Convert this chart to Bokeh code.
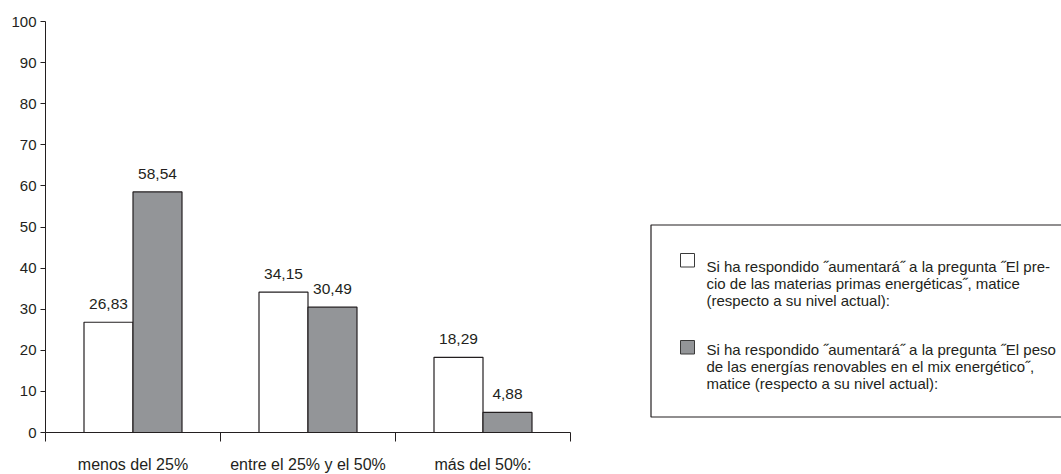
from bokeh.plotting import figure
from bokeh.layouts import row
from bokeh.models import Range1d, FixedTicker, ColumnDataSource
from bokeh.core.properties import value
from bokeh.embed import file_html
from bokeh.resources import INLINE

# ---- data ----
categories = ["menos del 25%", "entre el 25% y el 50%", "más del 50%:"]
precio = [26.83, 34.15, 18.29]        # white bars
renovables = [58.54, 30.49, 4.88]     # gray bars
y_ticks = [0, 10, 20, 30, 40, 50, 60, 70, 80, 90, 100]
legend_precio = ["Si ha respondido \u02ddaumentará\u02dd a la pregunta \u02ddEl pre-",
                 "cio de las materias primas energéticas\u02dd, matice",
                 "(respecto a su nivel actual):"]
legend_renov = ["Si ha respondido \u02ddaumentará\u02dd a la pregunta \u02ddEl peso",
                "de las energías renovables en el mix energético\u02dd,",
                "matice (respecto a su nivel actual):"]

# ---- style ----
FONT = value("Liberation Sans")
INK = "#231f20"
GRAY = "#939598"
BAR_W = 0.28
TOP, FRAME_H, BOTTOM = 21, 411, 42

def fmt(v):
    return f"{v:.2f}".replace(".", ",")

n = len(categories)
centers = [i + 0.5 for i in range(n)]
bounds = [i for i in range(n + 1)]

p = figure(frame_width=525, frame_height=FRAME_H,
           min_border_left=45, min_border_right=30,
           min_border_top=TOP, min_border_bottom=BOTTOM,
           x_range=Range1d(0, n), y_range=Range1d(0, 100),
           output_backend="svg", toolbar_location=None, tools="")
p.xgrid.visible = False
p.ygrid.visible = False
p.outline_line_color = None
p.background_fill_color = "white"
p.border_fill_color = "white"

ya = p.yaxis[0]
ya.ticker = FixedTicker(ticks=y_ticks)
ya.major_tick_out = 5
ya.major_tick_in = 0
ya.minor_tick_out = 0
ya.minor_tick_in = 0
ya.axis_line_color = INK
ya.major_tick_line_color = INK
ya.major_label_standoff = 4
ya.major_label_text_font = "Liberation Sans"
ya.major_label_text_font_size = "15px"
ya.major_label_text_color = INK

xa = p.xaxis[0]
xa.ticker = FixedTicker(ticks=centers, minor_ticks=bounds)
xa.major_label_overrides = {c: cat for c, cat in zip(centers, categories)}
xa.major_tick_out = 0
xa.major_tick_in = 0
xa.minor_tick_out = 9
xa.minor_tick_in = 0
xa.minor_tick_line_color = INK
xa.axis_line_color = INK
xa.major_label_standoff = 14
xa.major_label_text_font = "Liberation Sans"
xa.major_label_text_font_size = "16px"
xa.major_label_text_color = INK

src = ColumnDataSource(dict(
    xw=[i + 0.5 - BAR_W / 2 for i in range(n)],
    xg=[i + 0.5 + BAR_W / 2 for i in range(n)],
    precio=precio, renovables=renovables,
    lp=[fmt(v) for v in precio], lr=[fmt(v) for v in renovables],
))

p.vbar(x="xw", top="precio", bottom=0, width=BAR_W, source=src,
       fill_color="white", line_color=INK, line_width=1.2)
p.vbar(x="xg", top="renovables", bottom=0, width=BAR_W, source=src,
       fill_color=GRAY, line_color=INK, line_width=1.2)

for xcol, ycol, tcol in (("xw", "precio", "lp"), ("xg", "renovables", "lr")):
    p.text(x=xcol, y=ycol, text=tcol, source=src, y_offset=-18,
           text_align="center", text_baseline="alphabetic",
           text_font=FONT, text_font_size="15.5px", text_color=INK)

# ---- legend panel (page-pixel coordinates; frame aligned with chart frame) ----
q = figure(frame_width=461, frame_height=FRAME_H,
           min_border_left=0, min_border_right=0,
           min_border_top=TOP, min_border_bottom=BOTTOM,
           x_range=Range1d(600, 1061), y_range=Range1d(TOP + FRAME_H, TOP),
           x_axis_location=None, y_axis_location=None,
           output_backend="svg", toolbar_location=None, tools="")
q.xgrid.visible = False
q.ygrid.visible = False
q.outline_line_color = None
q.background_fill_color = "white"
q.border_fill_color = "white"

q.quad(left=650.5, right=1090, top=224.5, bottom=416.5,
       fill_color=None, line_color=INK, line_width=1.2)
q.quad(left=[680, 680], right=[694, 694], top=[253, 340], bottom=[266.5, 353.5],
       fill_color=["white", GRAY], line_color="#3a3a3a", line_width=1)
lines = legend_precio + legend_renov
q.text(x=[706] * 6, y=[266, 283, 300, 349, 366, 383], text=lines,
       text_align="left", text_baseline="alphabetic",
       text_font=FONT, text_font_size="15px", text_color=INK)

layout = row(p, q)
open("out.html", "w").write(file_html(layout, INLINE))
